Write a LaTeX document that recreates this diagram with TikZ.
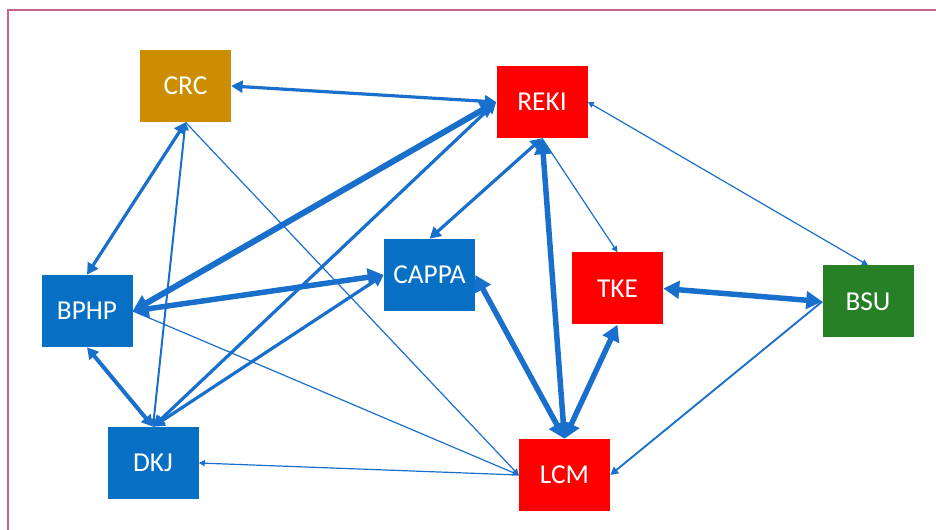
\documentclass[tikz,border=0pt]{standalone}
\usepackage{fontspec}
\setmainfont{Carlito}
\usetikzlibrary{arrows.meta}
\definecolor{boxblue}{RGB}{8,112,196}
\definecolor{boxred}{RGB}{255,0,0}
\definecolor{boxgold}{RGB}{204,142,0}
\definecolor{boxgreen}{RGB}{40,128,38}
\definecolor{arrowblue}{RGB}{24,112,204}
\definecolor{framecol}{RGB}{196,100,140}
\begin{document}
\begin{tikzpicture}[x=0.75pt,y=-0.75pt,
  box/.style={minimum width=68.25pt, minimum height=54pt, inner sep=0pt, text=white,
    font=\fontsize{20.5}{23}\selectfont},
  conn/.style={draw=arrowblue, line join=round},
  hv2/.style={conn, line width=4.1pt, arrows={Triangle[length=12pt,width=13pt]-Triangle[length=12pt,width=13pt]}},
  md2/.style={conn, line width=2.4pt, arrows={Triangle[length=8.5pt,width=9pt]-Triangle[length=8.5pt,width=9pt]}},
  sm2/.style={conn, line width=1.5pt, arrows={Triangle[length=6pt,width=6pt]-Triangle[length=6pt,width=6pt]}},
  sm1/.style={conn, line width=1.4pt, arrows={-Triangle[length=6pt,width=6pt]}},
  lt1/.style={conn, line width=0.9pt, arrows={-Triangle[length=4.5pt,width=4.5pt]}},
  lt2/.style={conn, line width=0.9pt, arrows={Triangle[length=4.5pt,width=4.5pt]-Triangle[length=4.5pt,width=4.5pt]}}]
\useasboundingbox (0,0) rectangle (936,530);
\draw[framecol, line width=1.5pt] (8,531) -- (8,10) -- (937,10);

\node[box, fill=boxgold]  (crc)   at (185.5,86)  {CRC};
\node[box, fill=boxred]   (reki)  at (542,102)   {REKI};
\node[box, fill=boxblue]  (cappa) at (429.5,275) {CAPPA};
\node[box, fill=boxblue]  (bphp)  at (87,311)    {BPHP};
\node[box, fill=boxblue]  (dkj)   at (153,463)   {DKJ};
\node[box, fill=boxred]   (tke)   at (617.5,288.5) {TKE};
\node[box, fill=boxgreen] (bsu)   at (868,301.5) {BSU};
\node[box, fill=boxred]   (lcm)   at (564.5,475) {LCM};

% thin connectors
\draw[lt1] (crc.south) -- (lcm.west);
\draw[lt1] (bphp.east) -- (lcm.west);
\draw[lt1] (lcm.west) -- (dkj.east);
\draw[lt1] (reki.south) -- (tke.north);
\draw[lt2] (bsu.north) -- (reki.east);
\draw[sm1] (bsu.west) -- (lcm.east);
\draw[sm2] (crc.south) -- (dkj.north);

% medium connectors
\draw[md2] (crc.east) -- (reki.west);
\draw[md2] (dkj.north) -- (reki.west);
\draw[md2] (dkj.north) -- (cappa.west);
\draw[md2] (crc.south) -- (bphp.north);
\draw[md2] (reki.south) -- (cappa.north);
\draw[md2, line width=3pt] (bphp.south) -- (dkj.north);

% heavy connectors
\draw[hv2, line width=4.5pt] (bphp.east) -- (reki.west);
\draw[hv2] (bphp.east) -- (cappa.west);
\draw[hv2] (reki.south) -- (lcm.north);
\draw[hv2] (tke.east) -- (bsu.west);
\draw[hv2] (cappa.east) -- (lcm.north);
\draw[hv2] (lcm.north) -- (tke.south);
\end{tikzpicture}
\end{document}
